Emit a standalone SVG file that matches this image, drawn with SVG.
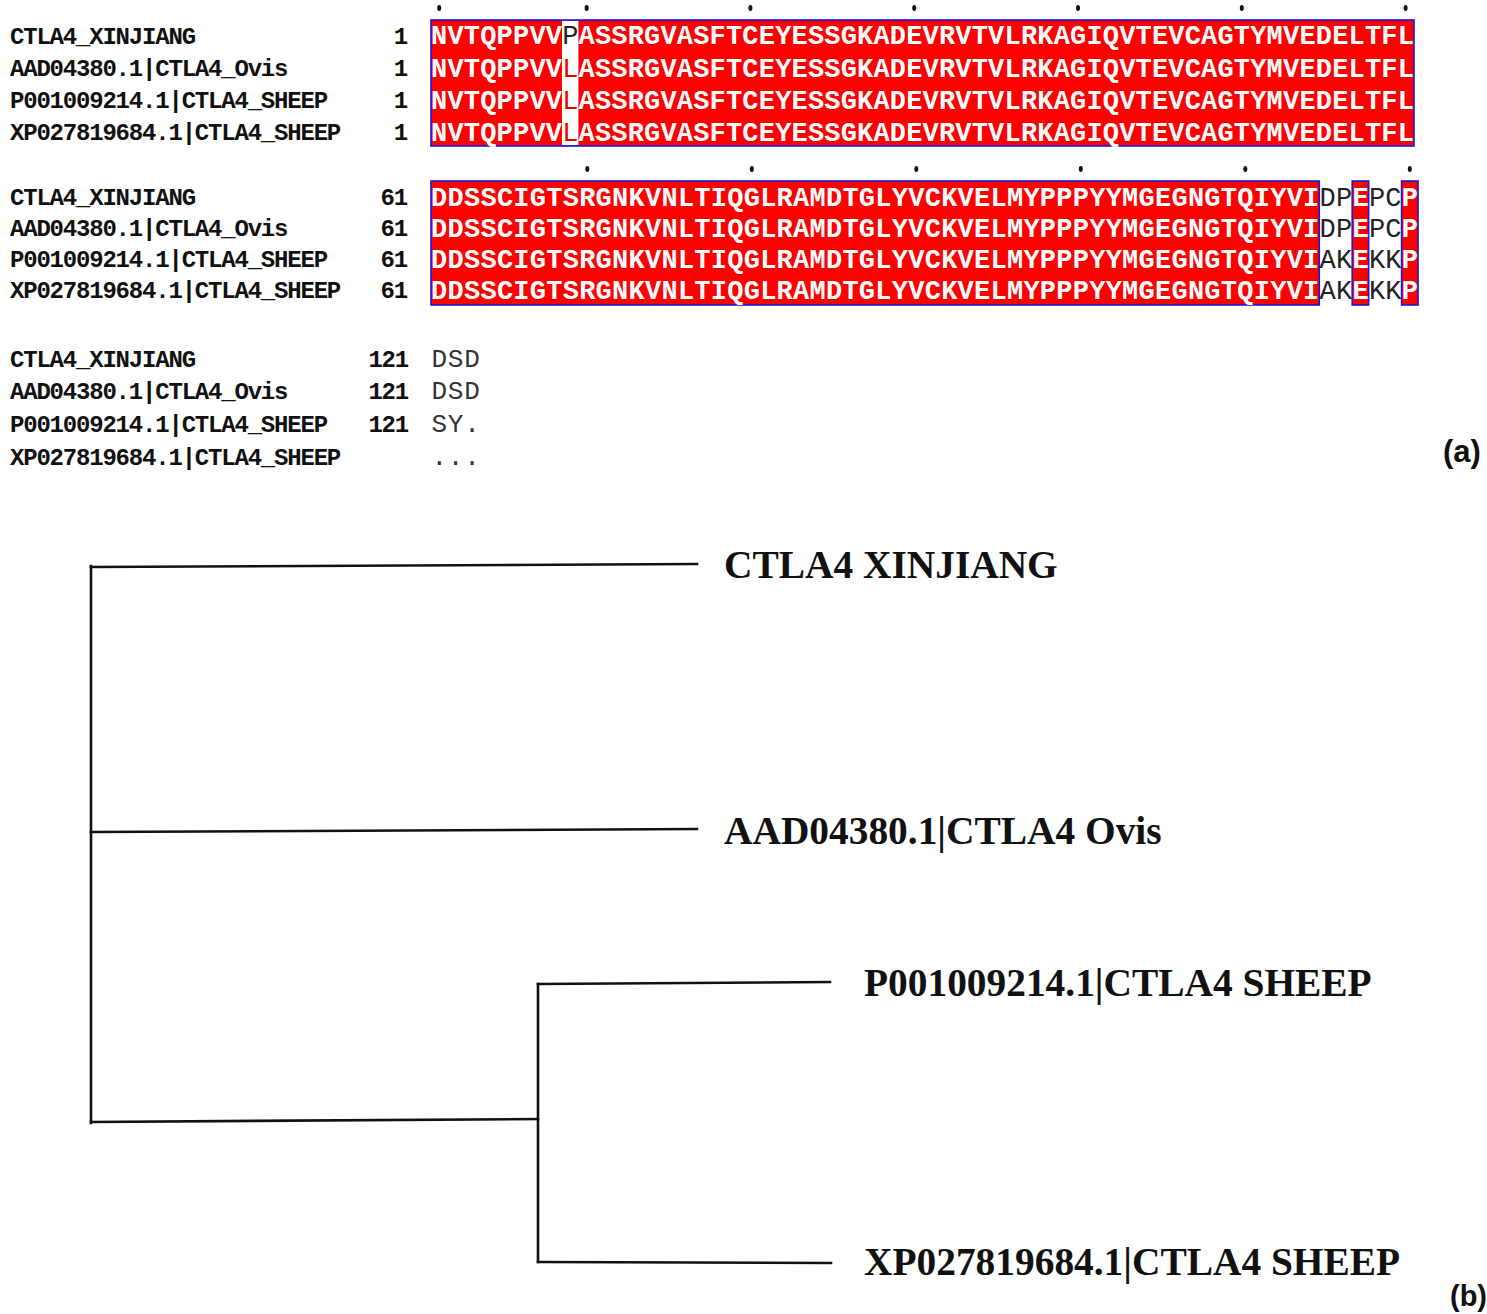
<svg xmlns="http://www.w3.org/2000/svg" width="1487" height="1314" viewBox="0 0 1487 1314">
<style>
.lab{font-family:"Liberation Mono",monospace;font-weight:bold;font-size:24px;letter-spacing:-1.2px;fill:#111}
.num{font-family:"Liberation Mono",monospace;font-weight:bold;font-size:24px;letter-spacing:-1.2px;fill:#111;text-anchor:end}
.seq1{font-family:"Liberation Mono",monospace;font-size:27px;letter-spacing:0.18px}
.seq2{font-family:"Liberation Mono",monospace;font-size:27px;letter-spacing:0.25px}
.w{fill:#fff;font-weight:bold}
.k{fill:#222;font-weight:normal}
.r{fill:#e00;font-weight:normal}
.tail{font-family:"Liberation Mono",monospace;font-size:26px;letter-spacing:0.8px;fill:#333}
.box{fill:#ff0000;stroke:#1a1adc;stroke-width:1.6}
.dot{fill:#111}
.leaf{font-family:"Liberation Serif","Times New Roman",serif;font-weight:bold;font-size:39.4px;fill:#111}
.panel{font-family:"Liberation Sans",Arial,sans-serif;font-weight:bold;fill:#111}
.edge{stroke:#111;stroke-width:2.6;fill:none;stroke-linecap:square}
</style>

<g id="alignment">
  <g id="block1">
    <g id="dots1">
      <ellipse class="dot" cx="439.2" cy="8" rx="2" ry="3"/>
      <ellipse class="dot" cx="586.6" cy="8" rx="2" ry="3"/>
      <ellipse class="dot" cx="750.4" cy="8" rx="2" ry="3"/>
      <ellipse class="dot" cx="914.2" cy="8" rx="2" ry="3"/>
      <ellipse class="dot" cx="1078" cy="8" rx="2" ry="3"/>
      <ellipse class="dot" cx="1241.8" cy="8" rx="2" ry="3"/>
      <ellipse class="dot" cx="1405.6" cy="8" rx="2" ry="3"/>
    </g>
    <rect class="box" x="431" y="20" width="983" height="126"/>
    <rect x="562" y="21" width="16.4" height="124" fill="#fff"/>
    <text class="lab" x="10" y="44">CTLA4_XINJIANG</text>
    <text class="lab" x="10" y="76">AAD04380.1|CTLA4_Ovis</text>
    <text class="lab" x="10" y="108">P001009214.1|CTLA4_SHEEP</text>
    <text class="lab" x="10" y="140">XP027819684.1|CTLA4_SHEEP</text>
    <text class="num" x="407" y="44">1</text>
    <text class="num" x="407" y="76">1</text>
    <text class="num" x="407" y="108">1</text>
    <text class="num" x="407" y="140">1</text>
    <text class="seq1" x="431.1" y="44"><tspan class="w">NVTQPPVV</tspan><tspan class="k">P</tspan><tspan class="w">ASSRGVASFTCEYESSGKADEVRVTVLRKAGIQVTEVCAGTYMVEDELTFL</tspan></text>
    <text class="seq1" x="431.1" y="76.5"><tspan class="w">NVTQPPVV</tspan><tspan class="r">L</tspan><tspan class="w">ASSRGVASFTCEYESSGKADEVRVTVLRKAGIQVTEVCAGTYMVEDELTFL</tspan></text>
    <text class="seq1" x="431.1" y="108.5"><tspan class="w">NVTQPPVV</tspan><tspan class="r">L</tspan><tspan class="w">ASSRGVASFTCEYESSGKADEVRVTVLRKAGIQVTEVCAGTYMVEDELTFL</tspan></text>
    <text class="seq1" x="431.1" y="140.5"><tspan class="w">NVTQPPVV</tspan><tspan class="r">L</tspan><tspan class="w">ASSRGVASFTCEYESSGKADEVRVTVLRKAGIQVTEVCAGTYMVEDELTFL</tspan></text>
  </g>

  <g id="block2">
    <g id="dots2">
      <ellipse class="dot" cx="587.3" cy="169" rx="2" ry="3"/>
      <ellipse class="dot" cx="751.8" cy="169" rx="2" ry="3"/>
      <ellipse class="dot" cx="916.3" cy="169" rx="2" ry="3"/>
      <ellipse class="dot" cx="1080.8" cy="169" rx="2" ry="3"/>
      <ellipse class="dot" cx="1245.3" cy="169" rx="2" ry="3"/>
      <ellipse class="dot" cx="1409.8" cy="169" rx="2" ry="3"/>
    </g>
    <rect class="box" x="431" y="181" width="888.3" height="124"/>
    <rect class="box" x="1352.2" y="181" width="16.45" height="124"/>
    <rect class="box" x="1401.6" y="181" width="16.45" height="124"/>
    <text class="lab" x="10" y="205">CTLA4_XINJIANG</text>
    <text class="lab" x="10" y="236">AAD04380.1|CTLA4_Ovis</text>
    <text class="lab" x="10" y="267">P001009214.1|CTLA4_SHEEP</text>
    <text class="lab" x="10" y="298">XP027819684.1|CTLA4_SHEEP</text>
    <text class="num" x="407" y="205">61</text>
    <text class="num" x="407" y="236">61</text>
    <text class="num" x="407" y="267">61</text>
    <text class="num" x="407" y="298">61</text>
    <text class="seq2" x="431.1" y="205.5"><tspan class="w">DDSSCIGTSRGNKVNLTIQGLRAMDTGLYVCKVELMYPPPYYMGEGNGTQIYVI</tspan><tspan class="k">DP</tspan><tspan class="w">E</tspan><tspan class="k">PC</tspan><tspan class="w">P</tspan></text>
    <text class="seq2" x="431.1" y="236.5"><tspan class="w">DDSSCIGTSRGNKVNLTIQGLRAMDTGLYVCKVELMYPPPYYMGEGNGTQIYVI</tspan><tspan class="k">DP</tspan><tspan class="w">E</tspan><tspan class="k">PC</tspan><tspan class="w">P</tspan></text>
    <text class="seq2" x="431.1" y="267.5"><tspan class="w">DDSSCIGTSRGNKVNLTIQGLRAMDTGLYVCKVELMYPPPYYMGEGNGTQIYVI</tspan><tspan class="k">AK</tspan><tspan class="w">E</tspan><tspan class="k">KK</tspan><tspan class="w">P</tspan></text>
    <text class="seq2" x="431.1" y="298.5"><tspan class="w">DDSSCIGTSRGNKVNLTIQGLRAMDTGLYVCKVELMYPPPYYMGEGNGTQIYVI</tspan><tspan class="k">AK</tspan><tspan class="w">E</tspan><tspan class="k">KK</tspan><tspan class="w">P</tspan></text>
  </g>

  <g id="block3">
    <text class="lab" x="10" y="367">CTLA4_XINJIANG</text>
    <text class="lab" x="10" y="399">AAD04380.1|CTLA4_Ovis</text>
    <text class="lab" x="10" y="432">P001009214.1|CTLA4_SHEEP</text>
    <text class="lab" x="10" y="465">XP027819684.1|CTLA4_SHEEP</text>
    <text class="num" x="408" y="367">121</text>
    <text class="num" x="408" y="399">121</text>
    <text class="num" x="408" y="432">121</text>
    <text class="tail" x="431.4" y="367">DSD</text>
    <text class="tail" x="431.4" y="399">DSD</text>
    <text class="tail" x="431.4" y="432">SY.</text>
    <text class="tail" x="431.4" y="465">...</text>
  </g>
  <text class="panel" x="1443" y="462" font-size="31">(a)</text>
</g>

<g id="tree">
  <g id="connectors">
    <path class="edge" d="M91,566 L91,1123"/>
    <path class="edge" d="M91,567 L697,564"/>
    <path class="edge" d="M91,832 L697,829"/>
    <path class="edge" d="M91,1122 L538,1119"/>
    <path class="edge" d="M538,984 L538,1262"/>
    <path class="edge" d="M538,984 L830,982"/>
    <path class="edge" d="M538,1262 L831,1263"/>
  </g>
  <g id="leaf-xinjiang"><text class="leaf" x="724" y="578">CTLA4 XINJIANG</text></g>
  <g id="leaf-ovis"><text class="leaf" x="724" y="844">AAD04380.1|CTLA4 Ovis</text></g>
  <g id="leaf-p001"><text class="leaf" x="864" y="996">P001009214.1|CTLA4 SHEEP</text></g>
  <g id="leaf-xp027"><text class="leaf" x="864" y="1275">XP027819684.1|CTLA4 SHEEP</text></g>
  <text class="panel" x="1450" y="1306" font-size="29">(b)</text>
</g>
</svg>
